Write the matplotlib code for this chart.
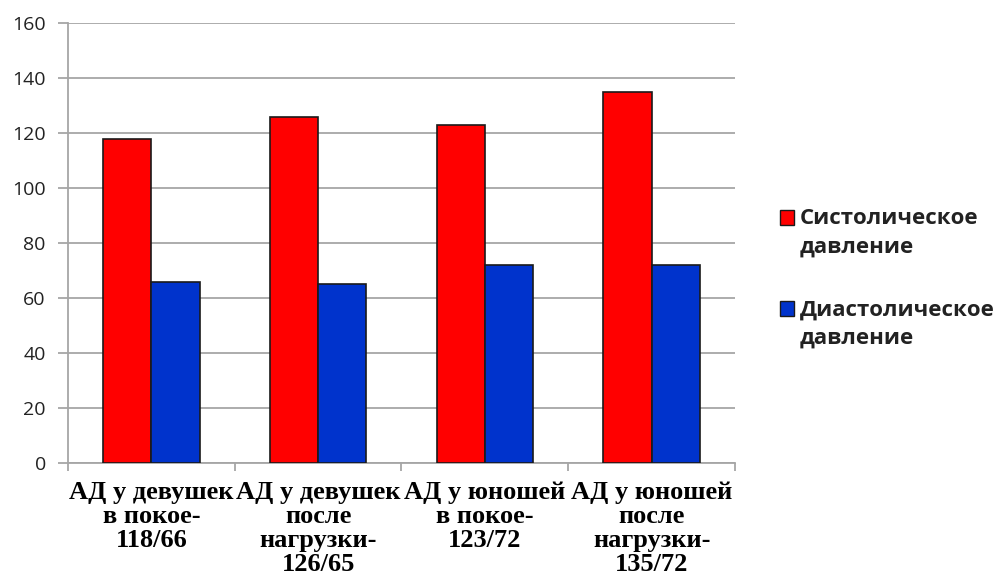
import numpy as np
import matplotlib
matplotlib.use("Agg")
import matplotlib.pyplot as plt
from matplotlib.legend_handler import HandlerPatch
from matplotlib.patches import Rectangle

categories = [
    "АД у девушек\nв покое-\n118/66",
    "АД у девушек\nпосле\nнагрузки-\n126/65",
    "АД у юношей\nв покое-\n123/72",
    "АД у юношей\nпосле\nнагрузки-\n135/72",
]
systolic = [118, 126, 123, 135]
diastolic = [66, 65, 72, 72]
series_names = ["Систолическое\nдавление", "Диастолическое\nдавление"]
yticks = [0, 20, 40, 60, 80, 100, 120, 140, 160]

grid_col = "#a6a6a6"


class TopSquare(HandlerPatch):
    # put the legend square next to the first text line
    def create_artists(self, legend, orig_handle, xdescent, ydescent,
                       width, height, fontsize, trans):
        p = Rectangle((-xdescent, -ydescent + 0.7 * fontsize), width, height,
                      facecolor=orig_handle.get_facecolor(),
                      edgecolor=orig_handle.get_edgecolor(), linewidth=1.0,
                      transform=trans)
        return [p]


fig = plt.figure(figsize=(10.06, 5.80), dpi=100)
ax = fig.add_axes([0.0676, 0.2017, 0.663, 0.7586])

x = np.arange(len(categories))
w = 0.29
b1 = ax.bar(x - w / 2, systolic, w, color="#ff0000", edgecolor="#1a1a1a", linewidth=1.2,
            label=series_names[0], zorder=3)
b2 = ax.bar(x + w / 2, diastolic, w, color="#0033cc", edgecolor="#1a1a1a", linewidth=1.2,
            label=series_names[1], zorder=3)

ax.set_xlim(-0.5, len(categories) - 0.5)
ax.set_ylim(0, 160)
ax.set_yticks(yticks)
ax.yaxis.grid(True, color=grid_col, linewidth=1.3, zorder=0)
ax.tick_params(axis="y", length=7, color=grid_col, width=1.3, labelsize=14,
               labelcolor="#222222", pad=9)
for lbl in ax.get_yticklabels():
    lbl.set_family("Open Sans")

ax.set_xticks(x)
ax.set_xticklabels(categories, family="Liberation Serif", fontweight="bold",
                   fontsize=19, linespacing=1.05)
ax.tick_params(axis="x", which="major", length=0, pad=13)
ax.set_xticks(np.arange(-0.5, len(categories)), minor=True)
ax.tick_params(axis="x", which="minor", length=6, color=grid_col, width=1.3)

for s in ["top", "right"]:
    ax.spines[s].set_visible(False)
for s in ["left", "bottom"]:
    ax.spines[s].set_color(grid_col)
    ax.spines[s].set_linewidth(1.3)

leg = fig.legend(handles=[b1.patches[0], b2.patches[0]], labels=series_names,
                 loc="center left", bbox_to_anchor=(0.755, 0.52), frameon=False,
                 prop={"family": "Open Sans", "weight": "bold", "size": 16},
                 handlelength=0.65, handleheight=0.65, handletextpad=0.25,
                 labelspacing=1.9, handler_map={Rectangle: TopSquare()})
for t in leg.get_texts():
    t.set_color("#222222")
    t.set_linespacing(1.45)

fig.savefig("out.png", dpi=100, facecolor="white")
